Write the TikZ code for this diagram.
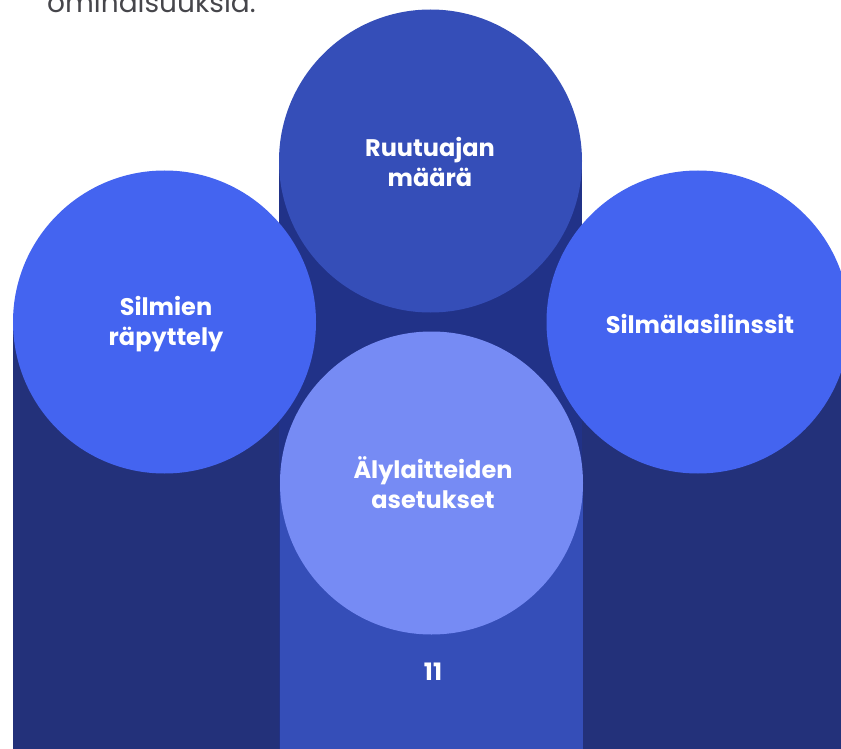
\documentclass[tikz,border=0pt]{standalone}
\usepackage{fontspec}
\setmainfont{Poppins}
\definecolor{topc}{RGB}{53,78,184}
\definecolor{sidec}{RGB}{68,100,240}
\definecolor{botc}{RGB}{118,139,244}
\definecolor{darkcol}{RGB}{35,49,122}
\definecolor{topcol}{RGB}{33,50,136}
\definecolor{graytxt}{RGB}{70,70,75}
\tikzset{
  bubble/.style={circle, minimum size=303pt, inner sep=0pt, draw=none},
  lbl/.style={text=white, font=\bfseries\fontsize{24}{30}\selectfont, align=center},
}
\begin{document}
\begin{tikzpicture}[x=1pt,y=-1pt]
\useasboundingbox (0,0) rectangle (841,749);
\clip (0,0) rectangle (841,749);
% top text (cut)
\node[anchor=base west, text=graytxt, font=\fontsize{28}{32}\selectfont, inner sep=0pt] (topt) at (47,13) {ominaisuuksia.};
% columns
\fill[darkcol] (13,322) rectangle (316,749);
\fill[darkcol] (548,322) rectangle (860,749);
\fill[topcol] (279,161) rectangle (582,749);
% circles
\node[bubble, fill=sidec] (left) at (164.5,322) {};
\node[bubble, fill=sidec] (right) at (698,322) {};
\node[bubble, fill=topc] (top) at (430.5,161) {};
% bottom column and circle
\fill[topc] (280,483) rectangle (583,749);
\node[bubble, fill=botc] (bot) at (431.5,483) {};
% labels
\node[lbl] (ltop) at (430,162) {Ruutuajan\\määrä};
\node[lbl] (lleft) at (166,324) {Silmien\\räpyttely};
\node[lbl] (lright) at (700,324) {Silmälasilinssit};
\node[lbl] (lbot) at (433,483) {Älylaitteiden\\asetukset};
\node[lbl] (num) at (433,672) {11};
\end{tikzpicture}
\end{document}
